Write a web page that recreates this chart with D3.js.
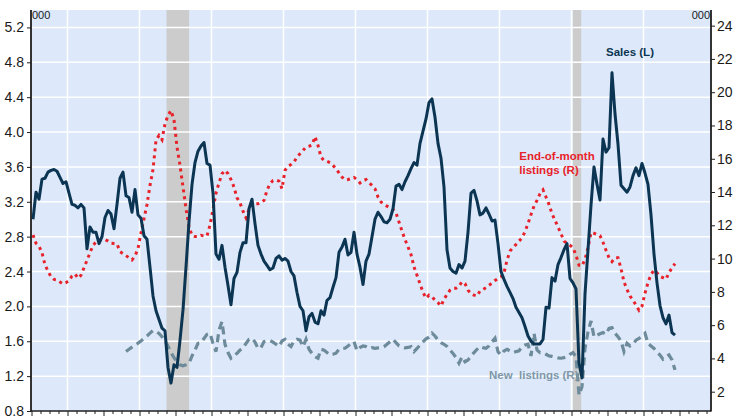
<!DOCTYPE html>
<html>
<head>
<meta charset="utf-8">
<script src="https://cdn.jsdelivr.net/npm/d3@7"></script>
<style>
  body { margin: 0; background: #fff; }
  svg  { display: block; font-family: Arial, "Liberation Sans", sans-serif; }
</style>
</head>
<body>
<div id="chart"></div>
<script>
// ── Data (monthly, Jan 2005 onwards) ──────────────────────────
var START_YEAR = 2005;

// Sales, 000 (left axis)
var salesL = [
  3.00, 3.31, 3.23, 3.46, 3.47, 3.54, 3.56, 3.57, 3.55, 3.48, 3.41, 3.43,
  3.30, 3.17, 3.16, 3.13, 3.17, 3.13, 2.66, 2.91, 2.85, 2.85, 2.72, 2.80,
  3.02, 3.10, 3.06, 2.89, 3.17, 3.47, 3.54, 3.27, 3.25, 3.08, 3.34, 3.05,
  3.01, 2.81, 2.77, 2.45, 2.12, 1.95, 1.85, 1.75, 1.72, 1.30, 1.12, 1.33,
  1.30, 1.61, 1.96, 2.45, 2.97, 3.40, 3.65, 3.78, 3.84, 3.88, 3.64, 3.62,
  3.30, 2.60, 2.54, 2.70, 2.45, 2.24, 2.02, 2.32, 2.39, 2.62, 2.73, 2.73,
  3.12, 3.23, 2.95, 2.70, 2.60, 2.52, 2.47, 2.42, 2.44, 2.55, 2.58, 2.53,
  2.55, 2.52, 2.40, 2.35, 2.16, 2.00, 1.95, 1.72, 1.88, 1.92, 1.82, 1.80,
  1.95, 1.90, 2.07, 2.10, 2.22, 2.33, 2.62, 2.68, 2.77, 2.59, 2.62, 2.85,
  2.60, 2.45, 2.25, 2.52, 2.60, 2.80, 3.00, 3.08, 3.03, 2.97, 2.96, 3.00,
  3.12, 3.38, 3.40, 3.34, 3.43, 3.50, 3.58, 3.65, 3.62, 3.87, 4.01, 4.15,
  4.34, 4.38, 4.17, 3.87, 3.70, 3.37, 2.65, 2.44, 2.40, 2.38, 2.48, 2.44,
  2.52, 2.85, 3.30, 3.33, 3.21, 3.05, 3.07, 3.13, 3.06, 2.98, 2.99, 2.72,
  2.40, 2.31, 2.23, 2.16, 2.09, 1.99, 1.93, 1.87, 1.77, 1.66, 1.60, 1.57,
  1.57, 1.57, 1.62, 1.99, 1.98, 2.33, 2.29, 2.48, 2.56, 2.65, 2.72, 2.32,
  2.27, 2.20, 1.35, 1.18, 2.14, 2.65, 3.16, 3.60, 3.40, 3.22, 3.92, 3.77,
  3.82, 4.68, 4.21, 3.86, 3.39, 3.35, 3.31, 3.37, 3.50, 3.59, 3.50, 3.64,
  3.53, 3.40, 3.05, 2.60, 2.27, 2.01, 1.87, 1.80, 1.90, 1.70, 1.67
];

// End-of-month listings, 000 (right axis)
var endOfMonthListingsR = [
  11.42, 10.92, 10.75, 10.35, 9.62, 9.25, 8.90, 8.75, 8.72, 8.60, 8.48, 8.55,
  8.67, 8.95, 9.08, 8.82, 9.00, 9.45, 9.90, 10.35, 10.80, 11.00, 11.12, 11.14,
  11.16, 11.05, 10.92, 10.90, 10.88, 10.42, 10.30, 10.18, 10.05, 9.92, 10.15, 10.60,
  11.55, 12.40, 13.25, 14.40, 15.35, 17.10, 17.40, 17.14, 18.10, 18.60, 18.90, 18.34,
  16.70, 15.60, 14.30, 13.00, 11.90, 11.40, 11.32, 11.32, 11.40, 11.36, 11.36, 12.02,
  12.95, 13.93, 14.55, 15.10, 15.30, 15.10, 14.75, 14.30, 13.65, 13.35, 12.85, 12.45,
  12.95, 13.29, 13.29, 13.29, 13.35, 13.50, 14.10, 14.50, 14.69, 14.72, 14.65, 14.20,
  15.30, 15.55, 15.65, 15.80, 16.10, 16.30, 16.50, 16.70, 16.75, 16.82, 17.33, 16.80,
  16.10, 15.89, 15.85, 15.77, 15.60, 15.40, 15.15, 14.90, 14.73, 14.75, 14.80, 14.88,
  14.75, 14.55, 14.70, 14.75, 14.55, 14.40, 14.20, 13.70, 13.40, 13.25, 13.15, 13.05,
  12.95, 12.75, 12.20, 11.65, 11.15, 10.70, 10.25, 9.50, 9.00, 8.48, 7.98, 7.62,
  7.80, 7.70, 7.50, 7.35, 7.15, 7.55, 7.85, 8.10, 8.22, 8.22, 8.35, 8.60,
  8.50, 8.10, 7.90, 7.80, 7.75, 8.05, 8.15, 8.25, 8.40, 8.52, 8.68, 8.80,
  8.90, 9.15, 9.90, 10.45, 10.65, 10.85, 11.05, 11.25, 11.62, 12.10, 12.65, 13.15,
  13.50, 13.90, 14.13, 13.70, 13.25, 12.70, 12.30, 11.90, 11.50, 11.05, 10.92, 10.80,
  10.65, 10.20, 9.60, 9.55, 9.95, 10.65, 11.56, 11.52, 11.45, 11.38, 10.98, 10.50,
  10.05, 9.82, 10.05, 10.05, 9.40, 8.60, 8.15, 7.75, 7.50, 7.20, 6.90, 7.15,
  7.92, 8.55, 9.05, 9.30, 9.15, 8.92, 8.85, 8.76, 9.15, 9.45, 9.70
];

// New listings, 000 (right axis), first value Aug 2007
var NEW_LISTINGS_OFFSET = 31;
var newListingsR = [
  4.41, 4.55, 4.68, 4.80, 4.92,
  5.05, 5.20, 5.35, 5.52, 5.68, 5.62, 5.50, 5.30, 5.05, 4.75, 4.35, 4.05,
  3.80, 3.62, 3.56, 3.62, 3.70, 4.15, 4.50, 4.91, 4.95, 5.20, 5.45, 5.51,
  4.91, 4.41, 5.70, 6.21, 4.85, 4.35, 4.01, 4.15, 4.31, 4.50, 4.61, 4.90,
  5.15, 5.21, 4.98, 4.60, 4.65, 5.01, 5.05, 5.07, 4.98, 4.85, 4.72, 5.05,
  5.15, 4.85, 4.71, 5.05, 5.15, 5.10, 4.71, 5.15, 4.55, 4.30, 4.10, 4.01,
  4.55, 4.50, 4.35, 4.21, 4.25, 4.31, 4.55, 4.61, 4.61, 4.75, 4.90, 5.01,
  4.47, 4.65, 4.75, 4.71, 4.60, 4.65, 4.61, 4.63, 4.65, 4.70, 4.85, 5.00,
  5.15, 4.95, 4.75, 4.68, 4.63, 4.66, 4.71, 4.41, 4.60, 4.81, 5.00, 5.18,
  5.27, 5.52, 5.35, 5.10, 4.95, 4.85, 4.72, 4.51, 4.30, 4.05, 3.71, 4.10,
  3.80, 3.90, 4.15, 4.35, 4.55, 4.71, 4.65, 4.61, 4.75, 5.00, 5.21, 4.40,
  4.21, 4.45, 4.55, 4.45, 4.35, 4.41, 4.45, 4.70, 4.80, 4.85, 4.15, 5.51,
  4.51, 4.35, 4.35, 4.25, 4.15, 4.12, 4.08, 4.03, 4.01, 4.05, 4.10, 4.25,
  4.35, 4.10, 1.80, 2.30, 4.60, 5.60, 6.25, 5.30, 5.40, 5.48, 5.55, 5.45,
  5.80, 5.85, 5.51, 5.30, 5.05, 4.41, 4.91, 4.75, 4.85, 5.10, 5.20, 5.35,
  5.51, 4.91, 4.75, 4.60, 4.40, 4.20, 3.95, 4.10, 4.21, 3.91, 3.31
];

var leftTicks  = [0.8, 1.2, 1.6, 2.0, 2.4, 2.8, 3.2, 3.6, 4.0, 4.4, 4.8, 5.2];
var rightTicks = [2, 4, 6, 8, 10, 12, 14, 16, 18, 20, 22, 24];
var gridYears  = [2006, 2008, 2010, 2012, 2014, 2016, 2018, 2020, 2022];
var recessionStart = [2008.75, 2020.04];
var recessionEnd   = [2009.38, 2020.27];

// ── Colours ───────────────────────────────────────────────────
var COL_BG      = '#dde9fa';
var COL_SALES   = '#0b3553';
var COL_EOM     = '#e8222b';
var COL_NEW     = '#6e8b9b';
var COL_NEW_TXT = '#8098a7';
var COL_BAR     = '#cccccc';
var COL_AXIS    = '#1e1e1e';

// ── Layout ────────────────────────────────────────────────────
var W = 733, H = 418;
var L = 31, R = 711, T = 10, B = 411;

var svg = d3.select('#chart').append('svg')
  .attr('width', W)
  .attr('height', H);

var x  = d3.scaleLinear().domain([START_YEAR, START_YEAR + (R - L) / 36]).range([L + 0.5, R + 0.5]);
var yL = d3.scaleLinear().domain([0.8, 5.4]).range([B, T]);
var yR = d3.scaleLinear().domain([0.84, 24.94]).range([B, T]);

function monthTime(i) { return START_YEAR + (i + 0.5) / 12; }

// Plot background
svg.append('rect')
  .attr('x', L).attr('y', T)
  .attr('width', R - L).attr('height', B - T)
  .attr('fill', COL_BG);

// Recession bars
svg.append('g').selectAll('rect')
  .data(recessionStart)
  .enter().append('rect')
  .attr('x',      function(d) { return x(d); })
  .attr('y',      T)
  .attr('width',  function(d, i) { return x(recessionEnd[i]) - x(d); })
  .attr('height', B - T)
  .attr('fill',   COL_BAR);

// Grid
var grid = svg.append('g').attr('stroke', '#ffffff').attr('stroke-width', 1.5);
grid.selectAll('.hg')
  .data(leftTicks.filter(function(v) { return v > 0.8; }))
  .enter().append('line')
  .attr('x1', L).attr('x2', R)
  .attr('y1', function(d) { return yL(d); })
  .attr('y2', function(d) { return yL(d); });
grid.selectAll('.vg')
  .data(gridYears)
  .enter().append('line')
  .attr('y1', T).attr('y2', B)
  .attr('x1', function(d) { return x(d); })
  .attr('x2', function(d) { return x(d); });

// ── Series ────────────────────────────────────────────────────
svg.append('clipPath').attr('id', 'plot-clip')
  .append('rect').attr('x', L).attr('y', T).attr('width', R - L).attr('height', B - T);

var series = svg.append('g').attr('clip-path', 'url(#plot-clip)');

var lineL = d3.line()
  .x(function(d, i) { return x(monthTime(i)); })
  .y(function(d) { return yL(d); });

var lineR = d3.line()
  .x(function(d, i) { return x(monthTime(i)); })
  .y(function(d) { return yR(d); });

var lineNew = d3.line()
  .x(function(d, i) { return x(monthTime(i + NEW_LISTINGS_OFFSET)); })
  .y(function(d) { return yR(d); });

series.append('path')
  .datum(newListingsR)
  .attr('d', lineNew)
  .attr('fill', 'none')
  .attr('stroke', COL_NEW)
  .attr('stroke-width', 3.2)
  .attr('stroke-dasharray', '8,5');

series.append('path')
  .datum(endOfMonthListingsR)
  .attr('d', lineR)
  .attr('fill', 'none')
  .attr('stroke', COL_EOM)
  .attr('stroke-width', 3)
  .attr('stroke-dasharray', '3,4');

series.append('path')
  .datum(salesL)
  .attr('d', lineL)
  .attr('fill', 'none')
  .attr('stroke', COL_SALES)
  .attr('stroke-width', 3)
  .attr('stroke-linejoin', 'round');

// ── Axes ──────────────────────────────────────────────────────
var axisLeft = d3.axisLeft(yL).tickValues(leftTicks).tickSize(4).tickPadding(3)
  .tickFormat(d3.format('.1f'));
var gl = svg.append('g').attr('transform', 'translate(' + L + ',0)').call(axisLeft);

var axisRight = d3.axisRight(yR).tickValues(rightTicks).tickSize(4).tickPadding(2)
  .tickFormat(d3.format('d'));
var gr = svg.append('g').attr('transform', 'translate(' + R + ',0)').call(axisRight);

var years = d3.range(START_YEAR, 2024);
var quarters = d3.range(START_YEAR, 2023.9, 0.25).filter(function(v) { return v % 1 !== 0; });

var axisMinor = d3.axisBottom(x).tickValues(quarters).tickSize(3).tickFormat('');
var gbm = svg.append('g').attr('transform', 'translate(0,' + B + ')').call(axisMinor);
var axisMajor = d3.axisBottom(x).tickValues(years).tickSize(5).tickFormat('');
var gb = svg.append('g').attr('transform', 'translate(0,' + B + ')').call(axisMajor);

[gl, gr, gbm, gb].forEach(function(g) {
  g.select('.domain').remove();
  g.selectAll('.tick line').attr('stroke', COL_AXIS).attr('stroke-width', 1);
  g.selectAll('.tick text')
    .attr('fill', '#1a1a1a')
    .attr('font-size', '14px')
    .attr('font-family', 'Arial, "Liberation Sans", sans-serif');
});

// axis lines
svg.append('line').attr('x1', L).attr('x2', L).attr('y1', T).attr('y2', B + 0.5)
  .attr('stroke', COL_AXIS).attr('stroke-width', 1.8);
svg.append('line').attr('x1', R).attr('x2', R).attr('y1', T).attr('y2', B + 0.5)
  .attr('stroke', COL_AXIS).attr('stroke-width', 1.8);
svg.append('line').attr('x1', L).attr('x2', R).attr('y1', B).attr('y2', B)
  .attr('stroke', COL_AXIS).attr('stroke-width', 1.5);

// Unit labels
svg.append('text').attr('x', L + 1).attr('y', T + 9)
  .attr('font-size', '11px').attr('fill', '#1a1a1a').text('000');
svg.append('text').attr('x', R - 1).attr('y', T + 9)
  .attr('text-anchor', 'end')
  .attr('font-size', '11px').attr('fill', '#1a1a1a').text('000');

// ── Series labels ─────────────────────────────────────────────
svg.append('text')
  .attr('x', x(2020.96)).attr('y', yL(4.87))
  .attr('font-size', '11.5px').attr('font-weight', 'bold')
  .attr('fill', COL_SALES).text('Sales (L)');

svg.append('text')
  .attr('x', x(2018.55)).attr('y', yR(15.90))
  .attr('font-size', '11.5px').attr('font-weight', 'bold')
  .attr('fill', COL_EOM).text('End-of-month');
svg.append('text')
  .attr('x', x(2018.55)).attr('y', yR(15.06))
  .attr('font-size', '11.5px').attr('font-weight', 'bold')
  .attr('fill', COL_EOM).text('listings (R)');

svg.append('text')
  .attr('x', x(2017.71)).attr('y', yR(2.75))
  .attr('font-size', '11.5px').attr('font-weight', 'bold')
  .style('white-space', 'pre')
  .attr('fill', COL_NEW_TXT).text('New  listings (R)');
</script>
</body>
</html>
